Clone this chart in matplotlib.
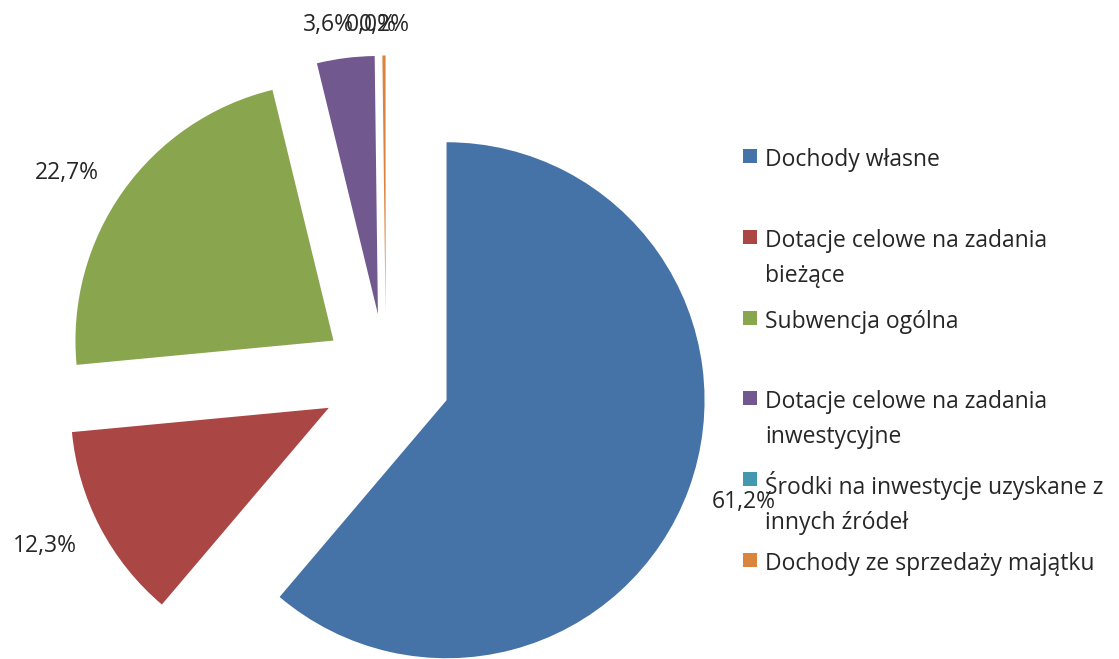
import matplotlib.pyplot as plt
from matplotlib.patches import Rectangle

categories = ["Dochody własne",
              "Dotacje celowe na zadania\nbieżące",
              "Subwencja ogólna",
              "Dotacje celowe na zadania\ninwestycyjne",
              "Środki na inwestycje uzyskane z\ninnych źródeł",
              "Dochody ze sprzedaży majątku"]
shares = [61.2, 12.3, 22.7, 3.6, 0.0, 0.2]
colors = ["#4572A7", "#AA4643", "#89A54E", "#71588F", "#4198AF", "#DB843D"]

plt.rcParams['font.family'] = ['Open Sans', 'DejaVu Sans']

W, H = 1119, 659
fig = plt.figure(figsize=(W / 100, H / 100), dpi=100)
ax = fig.add_axes([0, 0, 1, 1])

# pie centre and radius in pixels, used only to place the axes limits
cx, cy, R = 386, 378, 258

wedges, texts, autotexts = ax.pie(
    shares, colors=colors, startangle=90, counterclock=False,
    explode=[0.25] * len(shares), radius=1.0,
    autopct=lambda p: f"{p:.1f}%".replace('.', ','),
    pctdistance=1.15, wedgeprops=dict(linewidth=0),
    textprops=dict(fontsize=16.5, color="#262626"))

# label placement relative to each (exploded) wedge apex, in radius units
label_offsets = [(1.153, -0.394), (-1.100, -0.536), (-1.033, 0.650),
                 (-0.193, 1.120), (-0.055, 1.118), (-0.005, 1.118)]
for w, t, (ox, oy) in zip(wedges, autotexts, label_offsets):
    x0, y0 = w.center
    t.set_position((x0 + ox, y0 + oy))

ax.set_xlim(-cx / R, (W - cx) / R)
ax.set_ylim(-(H - cy) / R, cy / R)
ax.set_aspect('auto')
ax.axis('off')

# legend, drawn by hand: fixed slot height per entry
for i, (name, col) in enumerate(zip(categories, colors)):
    ymid = 1 - (156 + i * 80.8) / H
    fig.patches.append(Rectangle((743 / W, ymid - 7 / H), 14 / W, 14 / H,
                                 transform=fig.transFigure, color=col,
                                 linewidth=0))
    fig.text(765 / W, ymid + 8 / H, name, fontsize=16.5, color="#262626",
             va='top', ha='left', linespacing=1.6)

fig.savefig("out.png", dpi=100)
